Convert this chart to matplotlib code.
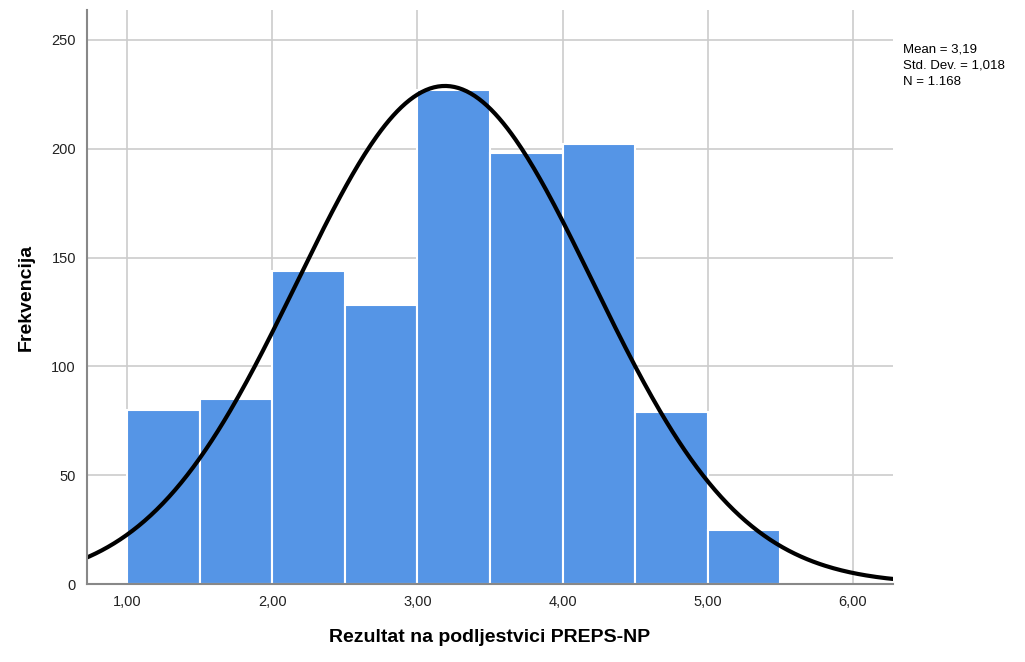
import matplotlib
matplotlib.use("Agg")
import matplotlib.pyplot as plt
import numpy as np

plt.rcParams['font.family'] = ['Liberation Sans', 'DejaVu Sans']

bin_edges = [1.0, 1.5, 2.0, 2.5, 3.0, 3.5, 4.0, 4.5, 5.0, 5.5]
counts = [80, 85, 144, 128, 227, 198, 202, 79, 25]
mean = 3.19
std = 1.018
n = 1168
x_ticks = [1, 2, 3, 4, 5, 6]
x_tick_labels = ["1,00", "2,00", "3,00", "4,00", "5,00", "6,00"]
y_ticks = [0, 50, 100, 150, 200, 250]

fig = plt.figure(figsize=(10.25, 6.62), dpi=100)
ax = fig.add_axes([0.0849, 0.1178, 0.7863, 0.8672])

ax.set_axisbelow(True)
ax.grid(True, color='#cccccc', linewidth=1.2)

left = np.array(bin_edges[:-1])
widths = np.diff(bin_edges)
ax.bar(left, counts, width=widths, align='edge', color='#5595e6',
       edgecolor='white', linewidth=1.5)

# fitted normal curve
bw = widths[0]
xs = np.linspace(0.7, 6.3, 400)
ys = n * bw * np.exp(-0.5 * ((xs - mean) / std) ** 2) / (std * np.sqrt(2 * np.pi))
ax.plot(xs, ys, color='black', linewidth=3)

ax.set_xlim(0.725, 6.275)
ax.set_ylim(0, 263.8)
ax.set_xticks(x_ticks)
ax.set_xticklabels(x_tick_labels)
ax.set_yticks(y_ticks)
ax.tick_params(length=0, labelsize=10.5, colors='#222222', pad=8)

for s in ['top', 'right']:
    ax.spines[s].set_visible(False)
for s in ['left', 'bottom']:
    ax.spines[s].set_color('#888888')
    ax.spines[s].set_linewidth(1.5)

ax.set_xlabel("Rezultat na podljestvici PREPS-NP", fontsize=14, fontweight='bold', labelpad=14)
ax.set_ylabel("Frekvencija", fontsize=14, fontweight='bold', labelpad=12)

fig.text(0.881, 0.934, "Mean = 3,19\nStd. Dev. = 1,018\nN = 1.168",
         fontsize=9.5, va='top', ha='left', linespacing=1.45)

fig.savefig("out.png", dpi=100)
